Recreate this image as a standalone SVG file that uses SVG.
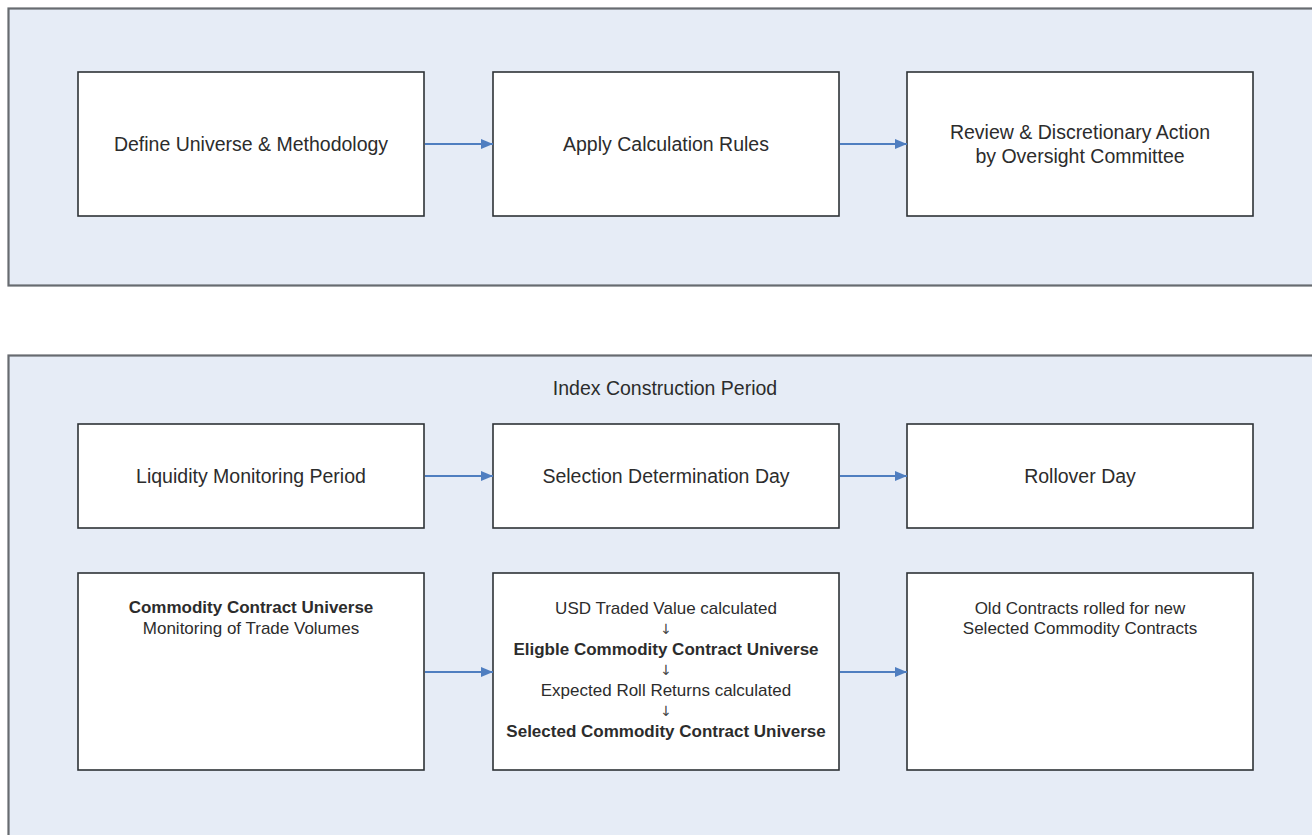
<svg xmlns="http://www.w3.org/2000/svg" width="1312" height="835" viewBox="0 0 1312 835">
<style>
.panel{fill:#e6ecf6;stroke:#676b70;stroke-width:2.2}
.box{fill:#ffffff;stroke:#2e3236;stroke-width:1.6}
.t{font-family:"Liberation Sans",Arial,sans-serif;font-size:19.5px;fill:#2c2c2c;text-anchor:middle}
.s{font-family:"Liberation Sans",Arial,sans-serif;font-size:17px;fill:#2c2c2c;text-anchor:middle}
.b{font-weight:bold}
.a{font-family:"DejaVu Sans",sans-serif;font-size:14px;fill:#444444;text-anchor:middle}
.c{stroke:#4f7ec0;stroke-width:2;fill:none;marker-end:url(#ah)}
</style>
<defs>
<marker id="ah" viewBox="0 0 12 10" refX="12" refY="5" markerWidth="12" markerHeight="10" markerUnits="userSpaceOnUse" orient="auto">
<path d="M0,0 L12,5 L0,10 z" fill="#4f7ec0"/>
</marker>
</defs>
<rect width="1312" height="835" fill="#ffffff"/>
<g id="panel-top"><rect class="panel" x="8.5" y="8.5" width="1320" height="277"/></g>
<g id="panel-bottom"><rect class="panel" x="8.5" y="355.5" width="1320" height="500"/>
<text class="t" x="665" y="395">Index Construction Period</text></g>

<g id="n-define"><rect class="box" x="78" y="72" width="346" height="144"/>
<text class="t" x="251" y="151">Define Universe &amp; Methodology</text></g>
<g id="n-apply"><rect class="box" x="493" y="72" width="346" height="144"/>
<text class="t" x="666" y="151">Apply Calculation Rules</text></g>
<g id="n-review"><rect class="box" x="907" y="72" width="346" height="144"/>
<text class="t" x="1080" y="139">Review &amp; Discretionary Action</text>
<text class="t" x="1080" y="163">by Oversight Committee</text></g>

<g id="n-liquidity"><rect class="box" x="78" y="424" width="346" height="104"/>
<text class="t" x="251" y="483">Liquidity Monitoring Period</text></g>
<g id="n-selection"><rect class="box" x="493" y="424" width="346" height="104"/>
<text class="t" x="666" y="483">Selection Determination Day</text></g>
<g id="n-rollover"><rect class="box" x="907" y="424" width="346" height="104"/>
<text class="t" x="1080" y="483">Rollover Day</text></g>

<g id="n-universe"><rect class="box" x="78" y="573" width="346" height="197"/>
<text class="s b" x="251" y="613">Commodity Contract Universe</text>
<text class="s" x="251" y="634">Monitoring of Trade Volumes</text></g>
<g id="n-process"><rect class="box" x="493" y="573" width="346" height="197"/>
<text class="s" x="666" y="614">USD Traded Value calculated</text>
<text class="a" x="666" y="634">↓</text>
<text class="s b" x="666" y="655">Eligble Commodity Contract Universe</text>
<text class="a" x="666" y="675">↓</text>
<text class="s" x="666" y="696">Expected Roll Returns calculated</text>
<text class="a" x="666" y="716">↓</text>
<text class="s b" x="666" y="737">Selected Commodity Contract Universe</text></g>
<g id="n-rolled"><rect class="box" x="907" y="573" width="346" height="197"/>
<text class="s" x="1080" y="614">Old Contracts rolled for new</text>
<text class="s" x="1080" y="634">Selected Commodity Contracts</text></g>

<g id="connectors">
<line class="c" x1="425" y1="144" x2="493" y2="144"/>
<line class="c" x1="840" y1="144" x2="907" y2="144"/>
<line class="c" x1="425" y1="476" x2="493" y2="476"/>
<line class="c" x1="840" y1="476" x2="907" y2="476"/>
<line class="c" x1="425" y1="672" x2="493" y2="672"/>
<line class="c" x1="840" y1="672" x2="907" y2="672"/>
</g>
</svg>
